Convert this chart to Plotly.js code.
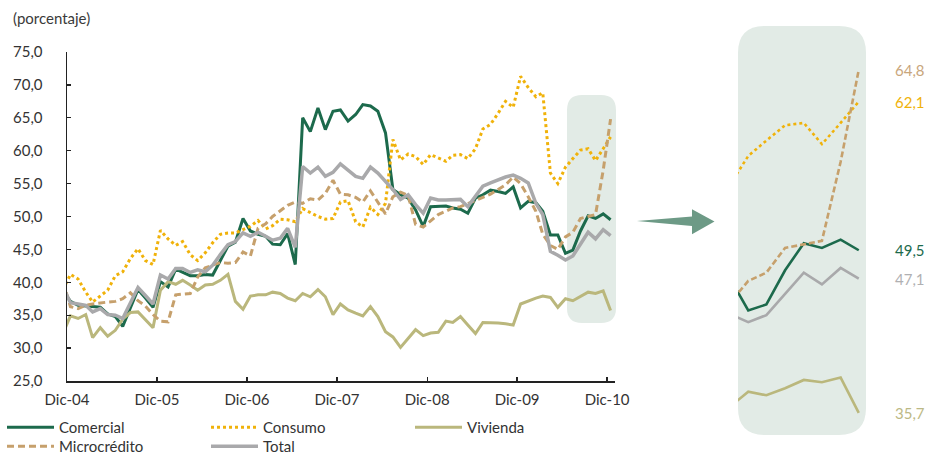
<!DOCTYPE html>
<html>
<head>
<meta charset="utf-8">
<script src="https://cdn.plot.ly/plotly-3.0.1.min.js"></script>
<style>
html,body{margin:0;padding:0;background:#ffffff;}
#chart{width:927px;height:456px;}
</style>
</head>
<body>
<div id="chart"></div>
<script>
// ---------- DATA (monthly, mid-month; Nov-04 .. Dic-10; Nov-04 lies just left of the axis) ----------
const firstMonth = {year: 2004, month: 11};
const nMonths = 74;

const comercial = [
  38.7, 37.1,
  36.5, 36.4, 36.4, 36.2, 35.2, 34.8, 33.3, 36.0, 38.9, 37.6, 36.2, 40.1,
  39.3, 42.0, 41.5, 41.0, 41.0, 41.2, 41.1, 43.4, 45.5, 46.1, 49.7, 47.8,
  47.3, 47.0, 45.8, 45.7, 47.4, 42.7, 65.0, 62.9, 66.5, 63.2, 66.0, 66.2,
  64.5, 65.5, 67.0, 66.8, 66.0, 62.7, 54.1, 53.3, 52.8, 51.0, 48.5, 51.5,
  51.6, 51.6, 51.3, 51.1, 50.5, 52.8, 53.3, 54.0, 53.8, 53.5, 54.5, 51.3,
  52.3, 52.1, 50.8, 47.2, 47.2, 44.4, 44.9, 47.8, 50.1, 49.7, 50.4, 49.5
];
const consumo = [
  38.9, 41.2,
  40.5, 38.5, 37.0, 37.9, 38.8, 41.0, 41.6, 43.6, 45.1, 43.3, 42.7, 47.9,
  46.6, 45.6, 46.2, 44.2, 43.3, 44.5, 46.0, 47.3, 47.5, 47.5, 48.0, 48.5,
  49.4, 48.1, 48.6, 49.6, 49.5, 49.2, 51.2, 50.6, 50.0, 49.6, 49.7, 52.2,
  52.4, 49.2, 48.4, 51.4, 50.3, 52.0, 61.7, 58.6, 59.5, 59.1, 57.9, 59.4,
  58.9, 58.4, 59.3, 59.4, 58.8, 60.3, 63.3, 64.0, 65.7, 67.5, 66.6, 71.3,
  69.6, 68.2, 68.8, 56.6, 55.0, 57.5, 58.8, 60.1, 60.3, 58.5, 60.3, 62.1
];
const vivienda = [
  32.3, 34.9,
  34.5, 35.1, 31.6, 33.1, 31.8, 32.7, 34.4, 35.4, 35.5, 34.3, 33.1, 38.8,
  40.1, 39.7, 40.3, 39.6, 38.8, 39.6, 39.7, 40.3, 41.2, 37.1, 35.9, 37.9,
  38.1, 38.1, 38.5, 38.3, 37.6, 37.2, 38.3, 37.8, 38.9, 37.8, 35.1, 36.7,
  35.8, 35.3, 34.9, 36.3, 34.8, 32.5, 31.7, 30.1, 31.5, 32.8, 31.9, 32.3,
  32.4, 34.1, 33.9, 34.8, 33.5, 32.2, 33.9, 33.9, 33.8, 33.7, 33.5, 36.7,
  37.2, 37.6, 37.9, 37.7, 36.2, 37.5, 37.2, 37.8, 38.5, 38.3, 38.7, 35.7
];
const microcredito = [
  40.1, 36.3,
  36.0, 36.5, 36.7, 36.9, 37.0, 37.1, 37.5, 38.4, 37.2, 36.4, 35.1, 34.1,
  34.0, 38.1, 38.2, 38.3, 40.8, 42.2, 42.6, 43.0, 42.9, 43.0, 44.6, 44.0,
  48.2, 48.9, 50.0, 50.8, 51.7, 52.2, 52.0, 52.7, 52.5, 53.5, 55.5, 53.4,
  53.3, 52.9, 52.2, 53.9, 52.2, 50.4, 53.0, 53.7, 53.2, 48.8, 48.4, 49.4,
  50.3, 50.8, 51.3, 51.5, 52.0, 52.5, 52.9, 53.4, 54.1, 54.8, 56.0, 55.0,
  53.0, 50.8, 47.3, 45.6, 45.0, 46.9, 47.6, 49.7, 50.0, 50.3, 57.0, 64.8
];
const total = [
  39.2, 36.9,
  36.7, 36.5, 35.5, 36.0, 35.1, 35.0, 34.5, 36.8, 39.2, 38.0, 36.7, 41.1,
  40.5, 42.1, 42.1, 41.5, 41.9, 41.6, 42.6, 44.2, 45.7, 46.2, 47.5, 47.0,
  47.6, 47.0, 46.4, 46.7, 48.2, 45.3, 57.6, 56.6, 57.5, 56.1, 56.7, 58.0,
  57.1, 56.1, 55.8, 57.5, 56.6, 55.3, 54.1, 52.6, 53.3, 51.8, 50.5, 52.8,
  52.5, 52.5, 52.5, 52.6, 51.5, 53.0, 54.6, 55.1, 55.6, 56.0, 56.3, 55.8,
  55.1, 52.0, 50.3, 44.7, 44.1, 43.4, 44.0, 45.8, 47.6, 46.6, 48.0, 47.1
];

const seriesNames = ['Comercial', 'Consumo', 'Vivienda', 'Microcrédito', 'Total'];
const tickDates = ['2004-12-01', '2005-12-01', '2006-12-01', '2007-12-01', '2008-12-01', '2009-12-01', '2010-12-01'];
const tickLabels = ['Dic-04', 'Dic-05', 'Dic-06', 'Dic-07', 'Dic-08', 'Dic-09', 'Dic-10'];
const yTicks = [25, 30, 35, 40, 45, 50, 55, 60, 65, 70, 75];

// ---------- helpers ----------
const months = [];
for (let i = 0; i < nMonths; i++) {
  const d = new Date(Date.UTC(firstMonth.year, firstMonth.month - 1 + i, 15));
  months.push(d.toISOString().slice(0, 10));
}
const W = 927, H = 456;
const PX = x => x / W;
const PY = y => 1 - y / H;
const P = (x, y) => PX(x).toFixed(5) + ',' + PY(y).toFixed(5);
function roundRect(x0, y0, x1, y1, r) {
  return 'M' + P(x0 + r, y0) + ' L' + P(x1 - r, y0) + ' Q' + P(x1, y0) + ' ' + P(x1, y0 + r) +
         ' L' + P(x1, y1 - r) + ' Q' + P(x1, y1) + ' ' + P(x1 - r, y1) +
         ' L' + P(x0 + r, y1) + ' Q' + P(x0, y1) + ' ' + P(x0, y1 - r) +
         ' L' + P(x0, y0 + r) + ' Q' + P(x0, y0) + ' ' + P(x0 + r, y0) + ' Z';
}
const fmt = v => v.toFixed(1).replace('.', ',');

const FONT = 'Lato, "Open Sans", "DejaVu Sans", sans-serif';
const styles = [
  {color: '#1c6a4c', dash: 'solid', width: 3, legend: 'legend'},
  {color: '#f0b20a', dash: 'dot', width: 3, legend: 'legend'},
  {color: '#bab77c', dash: 'solid', width: 3, legend: 'legend'},
  {color: '#c6a06c', dash: '7px,4px', width: 3, legend: 'legend2'},
  {color: '#a9a9ab', dash: 'solid', width: 3.5, legend: 'legend2'}
];
const labelColors = ['#1c6a4c', '#f0b20a', '#bcb985', '#c9a67c', '#b0b0b2'];
const allSeries = [comercial, consumo, vivienda, microcredito, total];

const traces = [];
allSeries.forEach((s, i) => {
  traces.push({
    x: months, y: s, name: seriesNames[i], type: 'scatter', mode: 'lines',
    line: {color: styles[i].color, width: styles[i].width, dash: styles[i].dash},
    xaxis: 'x', yaxis: 'y', legend: styles[i].legend, hoverinfo: 'skip'
  });
});
allSeries.forEach((s, i) => {
  traces.push({
    x: months, y: s, name: seriesNames[i], type: 'scatter', mode: 'lines',
    line: {color: styles[i].color, width: 2.6, dash: styles[i].dash === '7px,4px' ? '6px,3px' : styles[i].dash},
    xaxis: 'x2', yaxis: 'y2', showlegend: false, hoverinfo: 'skip'
  });
});

const annotations = [
  {text: '(porcentaje)', xref: 'paper', yref: 'paper', x: PX(11), y: PY(18), xanchor: 'left', yanchor: 'middle',
   showarrow: false, font: {family: FONT, size: 15, color: '#3a3a3a'}}
];
allSeries.forEach((s, i) => {
  annotations.push({
    text: fmt(s[s.length - 1]), xref: 'paper', yref: 'y2', x: PX(893), y: s[s.length - 1],
    xanchor: 'left', yanchor: 'middle', showarrow: false,
    font: {family: FONT, size: 15, color: labelColors[i]}
  });
});

const legendBase = {
  orientation: 'h', xanchor: 'left', yanchor: 'top', x: PX(2),
  entrywidth: 142, entrywidthmode: 'pixels', itemwidth: 47,
  font: {family: FONT, size: 15, color: '#333333'}, bgcolor: 'rgba(0,0,0,0)',
  traceorder: 'normal', tracegroupgap: 0, itemclick: false
};

const layout = {
  width: W, height: H,
  margin: {l: 0, r: 0, t: 0, b: 0, pad: 0, autoexpand: false},
  paper_bgcolor: '#ffffff', plot_bgcolor: 'rgba(0,0,0,0)',
  separators: ',.',
  font: {family: FONT, size: 15, color: '#333333'},
  showlegend: true,
  legend: Object.assign({}, legendBase, {y: PY(411)}),
  legend2: Object.assign({}, legendBase, {y: PY(430)}),
  xaxis: {
    domain: [PX(67), PX(615)], type: 'date', range: ['2004-12-01', '2011-01-02'],
    tickmode: 'array', tickvals: tickDates, ticktext: tickLabels,
    ticks: 'inside', ticklen: 4, tickwidth: 1.3, tickcolor: '#222',
    showline: true, linecolor: '#222', linewidth: 1.5, showgrid: false, zeroline: false,
    tickfont: {family: FONT, size: 15, color: '#333'}, ticklabelstandoff: 4, anchor: 'y', automargin: false
  },
  yaxis: {
    domain: [PY(381), PY(52)], range: [25, 75],
    tickmode: 'array', tickvals: yTicks, tickformat: '.1f',
    ticks: 'inside', ticklen: 4, tickwidth: 1.3, tickcolor: '#222',
    showline: true, linecolor: '#222', linewidth: 1.5, showgrid: false, zeroline: false,
    tickfont: {family: FONT, size: 15, color: '#333'}, ticklabelstandoff: 20, anchor: 'x', automargin: false
  },
  xaxis2: {domain: [PX(738), PX(866)], type: 'date', range: ['2010-05-29', '2010-12-27'], visible: false, anchor: 'y2'},
  yaxis2: {domain: [PY(435), PY(26)], range: [33.83, 68.52], visible: false, anchor: 'x2'},
  shapes: [
    {type: 'path', xref: 'paper', yref: 'paper', path: roundRect(567, 95, 616, 323, 15),
     fillcolor: '#e2ebe6', line: {width: 0}, layer: 'below'},
    {type: 'path', xref: 'paper', yref: 'paper', path: roundRect(738, 26, 866, 435, 27),
     fillcolor: '#e2ebe6', line: {width: 0}, layer: 'below'},
    {type: 'path', xref: 'paper', yref: 'paper',
     path: 'M' + P(637, 221) + ' L' + P(692, 216.5) + ' L' + P(692, 209.3) + ' L' + P(714.5, 221.5) +
           ' L' + P(692, 234.3) + ' L' + P(692, 226) + ' Z',
     fillcolor: '#6d9a86', line: {width: 0}, layer: 'above'}
  ],
  annotations: annotations
};

Plotly.newPlot('chart', traces, layout, {staticPlot: true, displayModeBar: false});
</script>
</body>
</html>
